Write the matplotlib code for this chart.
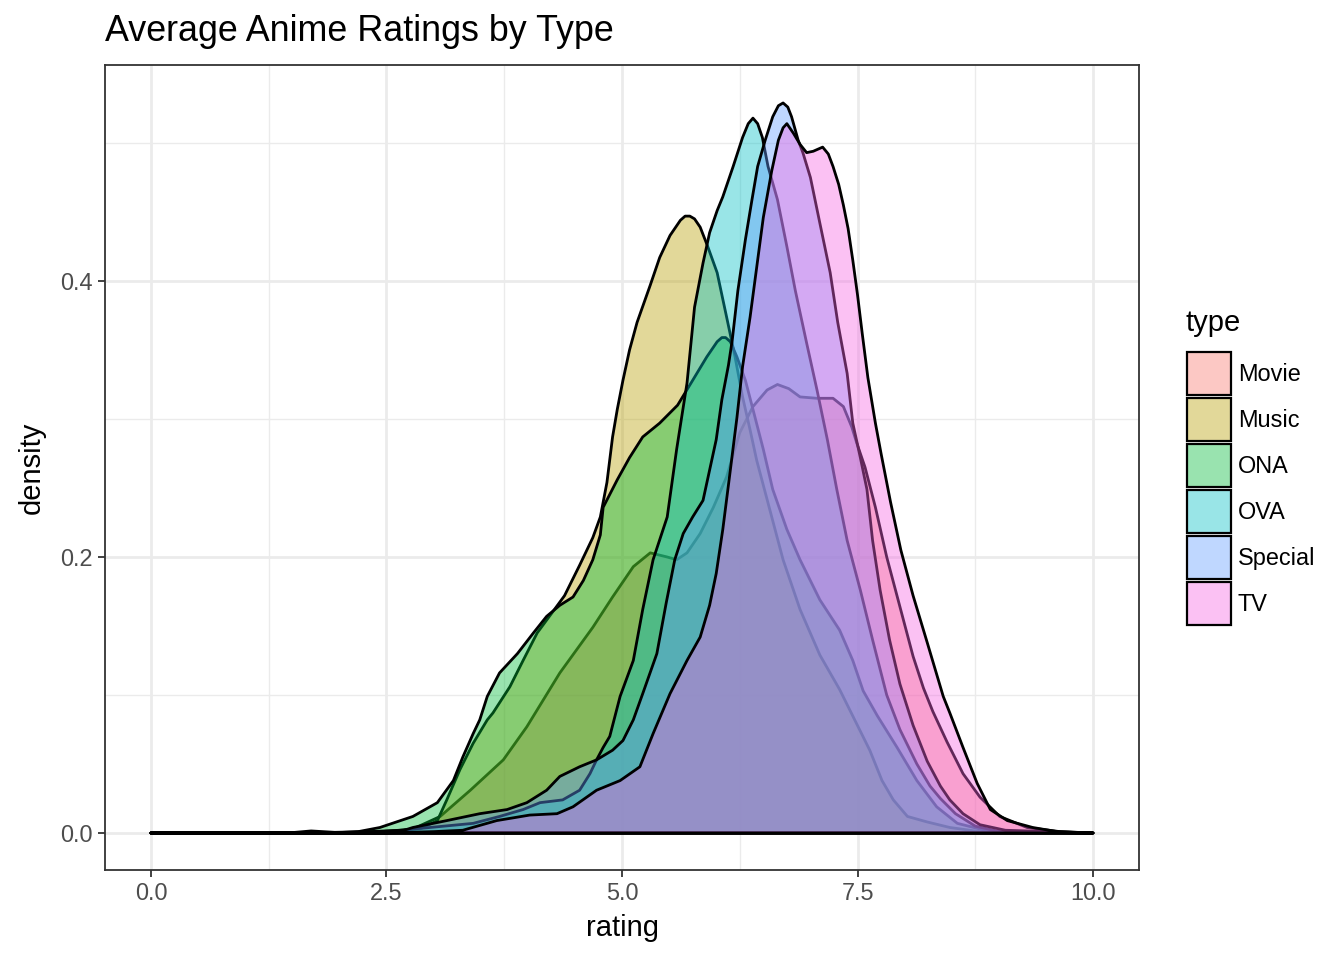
import matplotlib
matplotlib.use("Agg")
import matplotlib.pyplot as plt
from matplotlib.patches import Patch
from matplotlib.ticker import FixedLocator

plt.rcParams['font.family'] = ['Liberation Sans', 'DejaVu Sans']

# density curves (rating, density)
movie_x = [0, 1.45, 1.7, 1.95, 2.3, 2.6, 2.75, 3.07, 3.39, 3.74, 3.99, 4.34, 4.69, 4.90, 5.12,
           5.30, 5.48, 5.58, 5.69, 5.83, 5.97, 6.11, 6.25, 6.39, 6.54, 6.65, 6.77, 6.89, 7.07,
           7.24, 7.35, 7.44, 7.49, 7.58, 7.69, 7.81, 7.95, 8.09, 8.20, 8.30, 8.45, 8.62,
           8.80, 9.01, 9.30, 9.65, 10]
movie_y = [0, 0, 0.0015, 0.0005, 0.001, 0.001, 0.002, 0.012, 0.031, 0.053, 0.077, 0.116, 0.149,
           0.171, 0.193, 0.203, 0.200, 0.198, 0.203, 0.217, 0.236, 0.258, 0.290, 0.309,
           0.321, 0.325, 0.322, 0.316, 0.315, 0.315, 0.309, 0.294, 0.283, 0.265, 0.236, 0.200,
           0.164, 0.128, 0.105, 0.088, 0.066, 0.043, 0.026, 0.012, 0.004, 0.001, 0]

music_x = [0, 2.0, 2.43, 2.86, 3.04, 3.14, 3.28, 3.42, 3.57, 3.63, 3.81, 3.95, 4.10, 4.24,
           4.39, 4.55, 4.69, 4.77, 4.84, 4.90, 4.95, 5.01, 5.08, 5.16, 5.30, 5.40, 5.51,
           5.62, 5.67, 5.72, 5.77, 5.83, 5.91, 6.01, 6.11, 6.20, 6.28, 6.36, 6.43, 6.57,
           6.71, 6.89, 7.10, 7.31, 7.47, 7.63, 7.76, 7.88, 8.03, 8.24, 8.48, 8.80, 10]
music_y = [0, 0, 0.001, 0.003, 0.009, 0.024, 0.046, 0.065, 0.082, 0.087, 0.106, 0.125, 0.145,
           0.158, 0.172, 0.194, 0.214, 0.229, 0.254, 0.287, 0.307, 0.328, 0.350, 0.370,
           0.397, 0.417, 0.433, 0.444, 0.447, 0.447, 0.445, 0.439, 0.425, 0.406, 0.374,
           0.345, 0.316, 0.292, 0.270, 0.234, 0.198, 0.162, 0.129, 0.104, 0.082, 0.060,
           0.038, 0.024, 0.012, 0.008, 0.004, 0.001, 0]

ona_x = [0, 1.9, 2.2, 2.43, 2.78, 3.04, 3.21, 3.31, 3.42, 3.49, 3.57, 3.70, 3.89, 4.06, 4.20,
         4.34, 4.48, 4.59, 4.69, 4.77, 4.80, 4.95, 5.08, 5.22, 5.40, 5.59, 5.75, 5.90,
         6.01, 6.06, 6.10, 6.15, 6.22, 6.31, 6.39, 6.50, 6.60, 6.75, 6.89, 7.10, 7.31,
         7.45, 7.56, 7.71, 7.92, 8.13, 8.34, 8.56, 8.91, 10]
ona_y = [0, 0, 0.001, 0.004, 0.012, 0.022, 0.038, 0.055, 0.072, 0.082, 0.099, 0.116, 0.130,
         0.145, 0.157, 0.165, 0.171, 0.183, 0.198, 0.216, 0.236, 0.256, 0.272, 0.287,
         0.297, 0.310, 0.328, 0.345, 0.356, 0.359, 0.359, 0.356, 0.345, 0.328, 0.307,
         0.278, 0.249, 0.220, 0.198, 0.169, 0.147, 0.125, 0.103, 0.085, 0.062, 0.038,
         0.019, 0.007, 0.001, 0]

ova_x = [0, 2.0, 2.64, 2.96, 3.42, 3.70, 3.95, 4.13, 4.37, 4.55, 4.66, 4.73, 4.80, 4.87,
         4.98, 5.12, 5.22, 5.33, 5.48, 5.58, 5.69, 5.77, 5.86, 5.93, 6.01, 6.07, 6.18,
         6.28, 6.34, 6.39, 6.44, 6.49, 6.55, 6.65, 6.75, 6.84, 6.96, 7.07, 7.18, 7.28,
         7.39, 7.53, 7.66, 7.81, 7.95, 8.13, 8.27, 8.38, 8.54, 8.75, 9.01, 10]
ova_y = [0, 0, 0.002, 0.004, 0.007, 0.012, 0.017, 0.022, 0.024, 0.031, 0.043, 0.053, 0.062,
         0.070, 0.099, 0.125, 0.162, 0.198, 0.229, 0.278, 0.326, 0.381, 0.413, 0.435,
         0.451, 0.461, 0.483, 0.504, 0.514, 0.518, 0.514, 0.504, 0.483, 0.459, 0.425,
         0.393, 0.355, 0.321, 0.285, 0.249, 0.212, 0.176, 0.140, 0.100, 0.075, 0.050,
         0.034, 0.025, 0.014, 0.005, 0.001, 0]

special_x = [0, 2.5, 2.64, 2.78, 3.14, 3.49, 3.78, 3.99, 4.20, 4.34, 4.55, 4.73, 4.90, 5.01,
             5.12, 5.22, 5.37, 5.47, 5.56, 5.65, 5.75, 5.86, 5.93, 6.00, 6.06, 6.13, 6.17,
             6.23, 6.31, 6.38, 6.44, 6.52, 6.60, 6.66, 6.71, 6.76, 6.80, 6.87, 6.92, 7.00,
             7.10, 7.21, 7.29, 7.39, 7.45, 7.53, 7.60, 7.66, 7.74, 7.84, 7.95, 8.09, 8.24,
             8.38, 8.48, 8.62, 8.80, 9.07, 10]
special_y = [0, 0, 0.001, 0.004, 0.009, 0.014, 0.017, 0.022, 0.031, 0.041, 0.048, 0.053,
             0.060, 0.067, 0.082, 0.101, 0.130, 0.167, 0.198, 0.217, 0.229, 0.241, 0.263,
             0.285, 0.314, 0.339, 0.357, 0.393, 0.430, 0.459, 0.483, 0.502, 0.519, 0.527,
             0.529, 0.526, 0.519, 0.502, 0.493, 0.475, 0.442, 0.406, 0.370, 0.333, 0.297,
             0.272, 0.249, 0.212, 0.176, 0.140, 0.108, 0.078, 0.052, 0.034, 0.024, 0.014,
             0.006, 0.002, 0]

tv_x = [0, 2.5, 3.0, 3.31, 3.67, 4.02, 4.31, 4.48, 4.73, 4.98, 5.19, 5.33, 5.51, 5.69, 5.83,
        5.93, 6.00, 6.07, 6.15, 6.22, 6.28, 6.36, 6.43, 6.50, 6.59, 6.66, 6.71, 6.75, 6.82,
        6.89, 6.96, 7.03, 7.13, 7.19, 7.24, 7.30, 7.35, 7.40, 7.45, 7.50, 7.55, 7.61, 7.69,
        7.75, 7.85, 7.96, 8.09, 8.24, 8.41, 8.48, 8.62, 8.77, 8.91, 9.09, 9.36, 9.62, 10]
tv_y = [0, 0, 0.001, 0.002, 0.009, 0.013, 0.014, 0.019, 0.031, 0.038, 0.048, 0.072, 0.101,
        0.125, 0.142, 0.165, 0.188, 0.220, 0.263, 0.301, 0.338, 0.374, 0.410, 0.446,
        0.480, 0.502, 0.511, 0.514, 0.507, 0.499, 0.493, 0.494, 0.497, 0.492, 0.483,
        0.470, 0.455, 0.438, 0.415, 0.390, 0.362, 0.330, 0.297, 0.275, 0.240, 0.205,
        0.172, 0.138, 0.099, 0.087, 0.062, 0.036, 0.017, 0.009, 0.004, 0.001, 0]

types = ['Movie', 'Music', 'ONA', 'OVA', 'Special', 'TV']
colors = ['#F8766D', '#B79F00', '#00BA38', '#00BFC4', '#619CFF', '#F564E3']
curves = [(movie_x, movie_y), (music_x, music_y), (ona_x, ona_y),
          (ova_x, ova_y), (special_x, special_y), (tv_x, tv_y)]

fig = plt.figure(figsize=(13.44, 9.6), dpi=100)
ax = fig.add_axes([105 / 1344, 1 - 870 / 960, (1139 - 105) / 1344, (870 - 65) / 960])

# ggplot draws the groups in factor order, each one filled over the last
for (xs, ys), col in zip(curves, colors):
    ax.fill(xs, ys, facecolor=matplotlib.colors.to_rgba(col, 0.4),
            edgecolor='black', linewidth=2.0, joinstyle='round')

ax.set_xlim(-0.488, 10.488)
ax.set_ylim(-0.0268, 0.5565)
ax.xaxis.set_major_locator(FixedLocator([0, 2.5, 5, 7.5, 10]))
ax.xaxis.set_minor_locator(FixedLocator([1.25, 3.75, 6.25, 8.75]))
ax.yaxis.set_major_locator(FixedLocator([0, 0.2, 0.4]))
ax.yaxis.set_minor_locator(FixedLocator([0.1, 0.3, 0.5]))
ax.set_xticklabels(['0.0', '2.5', '5.0', '7.5', '10.0'])
ax.set_yticklabels(['0.0', '0.2', '0.4'])
ax.set_axisbelow(True)
ax.grid(which='major', color='#EBEBEB', linewidth=2.0)
ax.grid(which='minor', color='#EBEBEB', linewidth=1.0)
ax.tick_params(which='major', length=5, width=1.3, color='#333333',
               labelsize=16.9, labelcolor='#4D4D4D', pad=4)
ax.tick_params(which='minor', length=0)
for sp in ax.spines.values():
    sp.set_color('#333333')
    sp.set_linewidth(1.3)

ax.set_xlabel('rating', fontsize=21, labelpad=6)
ax.set_ylabel('density', fontsize=21, labelpad=10)
ax.set_title('Average Anime Ratings by Type', loc='left', fontsize=25.8, pad=17)

# legend: title as its own text so the keys can sit where ggplot puts them
fig.text(1185 / 1344, 1 - 323 / 960, 'type', fontsize=21, ha='left', va='center')
handles = [Patch(facecolor=matplotlib.colors.to_rgba(c, 0.4), edgecolor='black',
                 linewidth=1.6) for c in colors]
leg = fig.legend(handles, types, loc='upper left',
                 bbox_to_anchor=(1187 / 1344, 1 - 352 / 960), frameon=False,
                 fontsize=16.9, handlelength=1.87, handleheight=2.44,
                 labelspacing=0.13, handletextpad=0.3, borderpad=0, borderaxespad=0)

fig.savefig('out.png', dpi=100)
